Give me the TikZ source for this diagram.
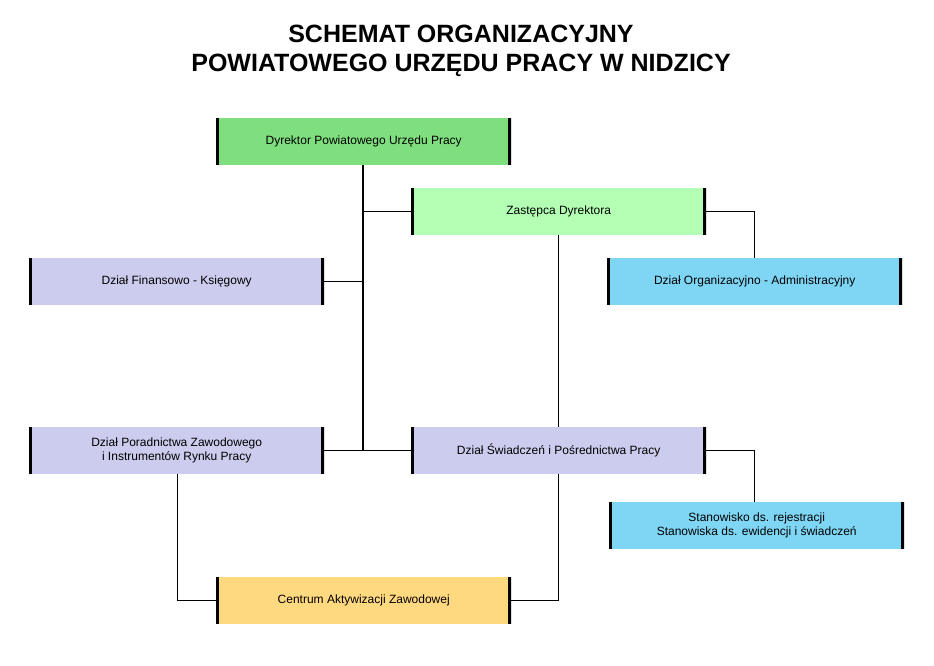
\documentclass[tikz,border=0pt]{standalone}
\usepackage{fontspec}
\setmainfont{Liberation Sans}
\usepackage{tikz}

\begin{document}
\begin{tikzpicture}[x=1pt,y=-1pt,
	box/.style={minimum width=295pt,minimum height=47pt,anchor=north west,inner sep=0pt,
		align=center,font=\fontsize{12}{14}\selectfont,
		path picture={\draw[line width=6pt] (path picture bounding box.north west) -- (path picture bounding box.south west);
			\draw[line width=6pt] (path picture bounding box.north east) -- (path picture bounding box.south east);}},
	link/.style={line width=1pt}]
			\useasboundingbox (0,0) rectangle (934,665);
			\definecolor{dirgreen}{HTML}{7FDF7F}
			\definecolor{litegreen}{HTML}{B3FFB3}
			\definecolor{lavender}{HTML}{CCCCEE}
			\definecolor{skyblue}{HTML}{7FD6F4}
			\definecolor{sand}{HTML}{FFD980}
			%title
			\node[font=\fontsize{25}{29}\selectfont\bfseries,align=center] (title) at (461,51)
				{SCHEMAT ORGANIZACYJNY\\POWIATOWEGO URZĘDU PRACY W NIDZICY};
			%boxes
			\node[box,fill=dirgreen] (dyr) at (216,118) {Dyrektor Powiatowego  Urzędu Pracy};
			\node[box,fill=litegreen] (zast) at (411,188) {Zastępca Dyrektora};
			\node[box,fill=lavender] (fin) at (29,258) {Dział Finansowo  - Księgowy};
			\node[box,fill=skyblue] (org) at (607,258) {Dział Organizacyjno  - Administracyjny};
			\node[box,fill=lavender] (por) at (29,427) {Dział Poradnictwa Zawodowego\\i Instrumentów Rynku Pracy};
			\node[box,fill=lavender] (swi) at (411,427) {Dział Świadczeń i Pośrednictwa  Pracy};
			\node[box,fill=skyblue] (stan) at (609,502) {Stanowisko ds. rejestracji\\Stanowiska ds. ewidencji i świadczeń};
			\node[box,fill=sand] (cent) at (216,577) {Centrum  Aktywizacji  Zawodowej};
			%connectors
			\coordinate (trunk) at (363,450);
			\draw[line width=1.5pt] (dyr.south -| trunk) -- (trunk);
			\draw[link] (zast.west) -- (zast.west -| trunk);
			\draw[link] (fin.east) -- (fin.east -| trunk);
			\draw[link] (por.east) -- (swi.west);
			\draw[link] (zast.east) -| (org.north);
			\draw[link] (zast.south) -- (swi.north);
			\draw[link] (swi.east) -| (754,502) coordinate (sj) -- (sj |- stan.north);
			\draw[link] (177,474) |- (cent.west);
			\draw[link] (swi.south) |- (cent.east);
		\end{tikzpicture}
\end{document}
